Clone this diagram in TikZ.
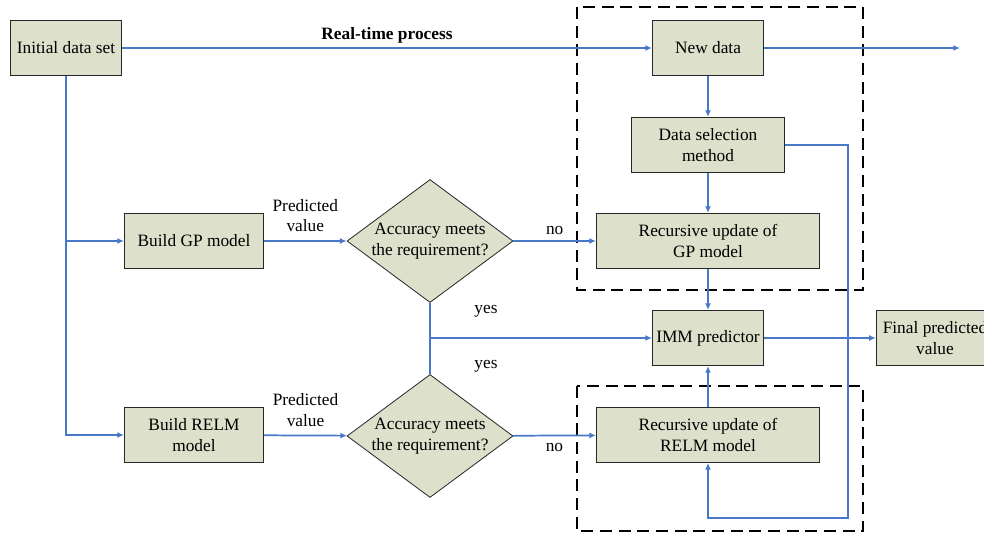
\documentclass[tikz,border=0pt]{standalone}
\usepackage{fontspec}
\setmainfont{Liberation Serif}
\usepackage{xcolor}
\usepackage{tikz}
\usetikzlibrary{shapes.geometric, arrows.meta}

\definecolor{boxfill}{HTML}{DDE0CA}
\definecolor{flowblue}{HTML}{4A78C8}

\tikzset{
  block/.style = {draw=black!85, fill=boxfill, line width=0.8pt, align=center,
                  minimum height=41.25pt, inner sep=2pt},
  decision/.style = {diamond, aspect=1.35, draw=black!85, fill=boxfill, line width=0.6pt, align=center,
                     minimum width=124.5pt, minimum height=92.25pt, inner sep=0pt},
  flowline/.style = {draw=flowblue, line width=1.3pt},
  flow/.style = {flowline, -{Latex[length=5pt, width=4.5pt]}},
  dashbox/.style = {draw=black, line width=1.3pt, dash pattern=on 9pt off 5pt},
  lbl/.style = {align=center, inner sep=1pt}
}

\begin{document}
\begin{tikzpicture}[x=0.75pt, y=-0.75pt, font=\fontsize{13}{15.5}\selectfont]
\useasboundingbox (0,0) rectangle (984,533);

% dashed frames
\draw[dashbox] (577,7) rectangle (863,290);
\draw[dashbox] (577,386) rectangle (863,531);

% boxes
\node[block, minimum width=83.25pt]  (init)   at (66,48)  {Initial data set};
\node[block, minimum width=83.25pt]  (newdata) at (708,48) {New data};
\node[block, minimum width=114.75pt] (datasel) at (708,145) {Data selection\\method};
\node[block, minimum width=167.25pt] (gpup)   at (708,241) {Recursive update of\\GP model};
\node[block, minimum width=83.25pt]  (imm)    at (708,338) {IMM predictor};
\node[block, minimum width=167.25pt] (relmup) at (708,435) {Recursive update of\\RELM model};
\node[block, minimum width=88pt]     (final)  at (935,338) {Final predicted\\value};
\node[block, minimum width=104.25pt] (buildgp)   at (194,241) {Build GP model};
\node[block, minimum width=104.25pt] (buildrelm) at (194,435) {Build RELM\\model};
\node[decision] (dec1) at (430,241) {Accuracy meets\\the requirement?};
\node[decision] (dec2) at (430,436) {Accuracy meets\\the requirement?};

\coordinate (out)  at (960,48);
\coordinate (join) at (430,338);
\coordinate (back) at (848,518);

% real-time branch
\draw[flow] (init) -- node[lbl, above=2pt, font=\fontsize{13}{15.5}\selectfont\bfseries] {Real-time process} (newdata);
\draw[flow] (newdata) -- (out);
\draw[flow] (newdata) -- (datasel);
\draw[flow] (datasel) -- (gpup);
\draw[flow] (datasel.east) -| (back) -| (relmup.south);
\draw[flow] (gpup) -- (imm);
\draw[flow] (relmup) -- (imm);
\draw[flow] (imm) -- (final);

% model building
\draw[flow] (init.south) |- (buildgp);
\draw[flow] (init.south) |- (buildrelm);
\draw[flow] (buildgp) -- node[lbl, above=5pt] {Predicted\\value} (dec1);
\draw[flow] (buildrelm) -- node[lbl, above=5pt] {Predicted\\value} (dec2);
\draw[flow] (dec1) -- node[lbl, above=3pt] {no} (gpup);
\draw[flow] (dec2) -- node[lbl, below=4pt] {no} (relmup);

% accepted predictions
\draw[flowline] (dec1.south) -- (dec2.north);
\draw[flow] (join) -- (imm);
\node[lbl] (yes1) at (486,311) {yes};
\node[lbl] (yes2) at (486,366) {yes};
\end{tikzpicture}
\end{document}
